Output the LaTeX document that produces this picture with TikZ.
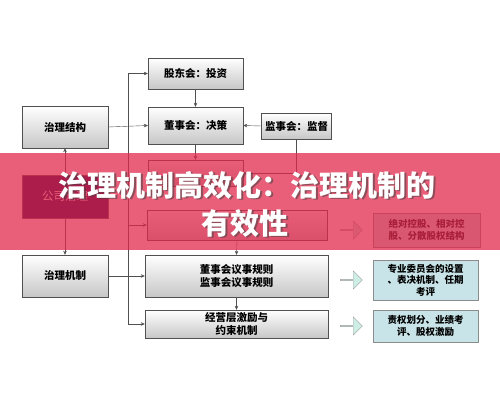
\documentclass[tikz,border=0pt]{standalone}
\usepackage{fontspec}
\setmainfont{Noto Sans CJK SC}
\usetikzlibrary{arrows.meta,shapes.arrows}
\definecolor{bannerpink}{RGB}{225,40,75}
\definecolor{boxline}{RGB}{80,80,80}
\definecolor{notefill}{RGB}{200,228,232}
\definecolor{arrowfill}{RGB}{205,238,228}
\definecolor{rootfill}{RGB}{20,0,80}

\begin{document}
\begin{tikzpicture}[x=1pt,y=-1pt]
\tikzstyle{every node}+=[inner sep=0pt]
\tikzstyle{box}=[draw=boxline, top color=white, bottom color=black!22, font=\bfseries\fontsize{10.5}{12.5}\selectfont, align=center]
\tikzstyle{rootbox}=[draw=boxline, fill=rootfill, text=white, font=\fontsize{11.5}{13}\selectfont]
\tikzstyle{note}=[draw=black!45, fill=notefill, font=\bfseries\fontsize{9.5}{11.5}\selectfont, align=center]
\tikzstyle{link}=[draw=boxline, -{Stealth[length=4pt,width=3.5pt]}]
\tikzstyle{fat}=[single arrow, draw=black!40, fill=arrowfill, minimum width=18pt, minimum height=22pt, single arrow head extend=3pt]
\tikzstyle{title}=[text=white, font=\bfseries\fontsize{29}{34}\selectfont]
\useasboundingbox (0,0) rectangle (500,406);
% left column
\node [box, minimum width=86pt, minimum height=42pt] (zljg) at (65,127) {治理结构};
\node [rootbox, minimum width=86pt, minimum height=43pt] (gszl) at (65,196.5) {公司治理};
\node [box, minimum width=86pt, minimum height=42pt] (zljz) at (65,276) {治理机制};
% middle column
\node [box, minimum width=95pt, minimum height=31pt] (gdh) at (195.5,73.5) {股东会：投资};
\node [box, minimum width=95pt, minimum height=37pt] (dsh) at (195.5,125.5) {董事会：决策};
\node [box, minimum width=70pt, minimum height=26pt] (jsh) at (296.5,126) {监事会：监督};
\node [box, minimum width=95pt, minimum height=26pt] (jlc) at (195.5,173) {};
\node [box, minimum width=180pt, minimum height=30pt] (gqjg) at (237,225) {};
\node [box, minimum width=183pt, minimum height=42pt] (yszgz) at (236.5,276) {董事会议事规则\\监事会议事规则};
\node [box, minimum width=183pt, minimum height=28pt] (jyc) at (236.5,324) {经营层激励与\\约束机制};
% right column
\node [fat] (a1) at (351,230) {};
\node [fat] (a2) at (351,280) {};
\node [fat] (a3) at (351,326) {};
\node [note, minimum width=107pt, minimum height=34pt] (n1) at (426.5,230) {绝对控股、相对控\\股、分散股权结构};
\node [note, minimum width=105pt, minimum height=40pt] (n2) at (425.5,280) {专业委员会的设置\\、表决机制、任期\\考评};
\node [note, minimum width=105pt, minimum height=32pt] (n3) at (425.5,326) {责权划分、业绩考\\评、股权激励};
% connectors
\coordinate (spine) at (128,324);
\draw [link] (gszl.north) -- (zljg.south);
\draw [link] (gszl.south) -- (zljz.north);
\draw [link] (zljg.east) -- (dsh.west);
\draw [link] (spine) |- (gdh.west);
\draw [link] (spine) -- (jyc.west);
\draw [link] (spine |- gqjg.west) -- (gqjg.west);
\draw [link] (gdh.south) -- (dsh.north);
\draw [link] (jsh.west) -- (dsh.east);
\draw [link] (dsh.south) -- (jlc.north);
\draw [link] (jsh.south) |- (jlc.east);
\draw [link] (gqjg.south) -- (yszgz.north);
\draw [link] (zljz.east) -- (yszgz.west);
\draw [link] (yszgz.south) -- (jyc.north);
% banner
\fill [bannerpink, opacity=0.75] (0,153) rectangle (500,250);
\node [title, text=black!75, opacity=0.55] (t1s) at (248.5,186.5) {治理机制高效化：治理机制的};
\node [title, text=black!75, opacity=0.55] (t2s) at (246.5,224.5) {有效性};
\node [title] (t1) at (247,185) {治理机制高效化：治理机制的};
\node [title] (t2) at (245,223) {有效性};
\end{tikzpicture}
\end{document}
